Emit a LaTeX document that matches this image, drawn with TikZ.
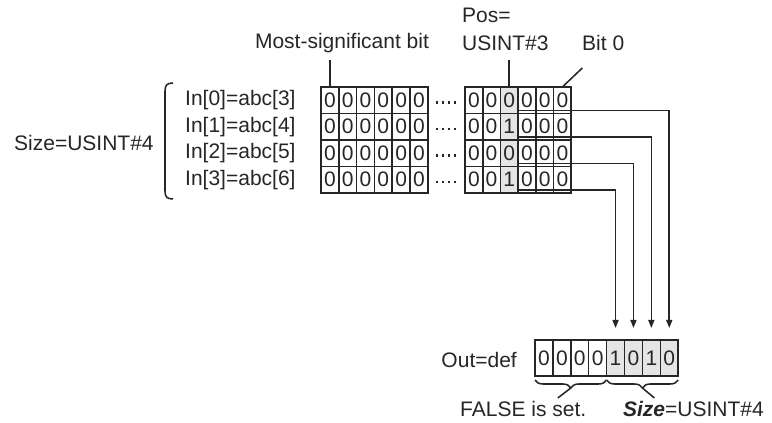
\documentclass[tikz,border=0pt]{standalone}
\usepackage{fontspec}
\setmainfont{Liberation Sans}
\usetikzlibrary{arrows.meta, calc, decorations.pathreplacing, positioning}

\tikzset{
  bitcell/.style={draw, minimum width=13.35pt, minimum height=19.9pt, inner sep=0pt, outer sep=0pt},
  poscell/.style={bitcell, fill=gray!20},
  outcell/.style={bitcell, minimum width=13.4pt, minimum height=27pt},
  tip/.style={-{Triangle[length=6pt,width=4.5pt]}},
  brc/.style={decorate, decoration={brace, mirror, amplitude=6pt}},
}

\begin{document}
\begin{tikzpicture}
  [x=0.75pt,y=-0.75pt,line width=1.15pt,color=black!85,
   every node/.style={font=\fontsize{15.75}{21}\selectfont}]
  \useasboundingbox (0,0) rectangle (772,423);

  % labels above the words
  \node (msb) at (342,43) {Most-significant bit};
  \node[anchor=west,align=left] (pos) at (457,29) {Pos=\\USINT\#3};
  \node[anchor=west] (bit0) at (577,43) {Bit 0};

  % input words
  \foreach \r/\k/\a in {1/3/0,2/4/1,3/5/0,4/6/1} {
    \foreach \c in {1,...,6}
      \node[bitcell] (l\r\c) at (321+17.8*\c-8.9, 87+26.5*\r-13.25) {0};
    \foreach \c in {1,2,4,5,6}
      \node[bitcell] (r\r\c) at (465+17.7*\c-8.85, 87+26.5*\r-13.25) {0};
    \node[poscell] (r\r3) at (465+17.7*3-8.85, 87+26.5*\r-13.25) {\a};
    \foreach \d in {0,...,3}
      \fill (436+6*\d, 87+26.5*\r-12) rectangle ++(2.2,2.2);
    \pgfmathtruncatemacro{\i}{\r-1}
    \node[anchor=west] (in\r) at (180, 87+26.5*\r-13.25) {In[\i]=abc[\k]};
  }

  \draw (l11.north) -- ++(0,-27);
  \draw (r13.north) -- ++(0,-27);
  \draw (r16.north) -- ++(20,-19);

  % bracket
  \draw (173,83) .. controls (167,83) and (165,85) .. (165,91) -- (165,191)
    .. controls (165,197) and (167,199) .. (173,199);
  \node[anchor=west] (size) at (9,143) {Size=USINT\#4};

  % output word
  \node[anchor=east] (out) at (522,360) {Out=def};
  \foreach \c/\b in {1/0,2/0,3/0,4/0}
    \node[outcell] (o\c) at (535+17.9*\c-8.95, 358) {\b};
  \foreach \c/\b in {5/1,6/0,7/1,8/0}
    \node[outcell,fill=gray!20] (o\c) at (535+17.9*\c-8.95, 358) {\b};

  \foreach \r/\o in {1/8,2/7,3/6,4/5}
    \draw[tip] ([yshift=2.25pt]r\r4.south west) -| ([yshift=9pt]o\o.north);

  % braces
  \draw[brc] ([yshift=-3pt]o1.south west) -- ([yshift=-3pt]o4.south east);
  \draw[brc] ([yshift=-3pt]o5.south west) -- ([yshift=-3pt]o8.south east);
  \coordinate (fb) at ($(o1.south west)!.5!(o4.south east)+(0,12)$);
  \coordinate (sb) at ($(o5.south west)!.5!(o8.south east)+(0,12)$);
  \node[anchor=west] (false) at (455,409) {FALSE is set.};
  \node[anchor=east] (sz) at (769,409) {\textbf{\textit{Size}}=USINT\#4};
  \draw (fb) -- ++(-13,10);
  \draw (sb) -- ++(12,10);

\end{tikzpicture}
\end{document}
